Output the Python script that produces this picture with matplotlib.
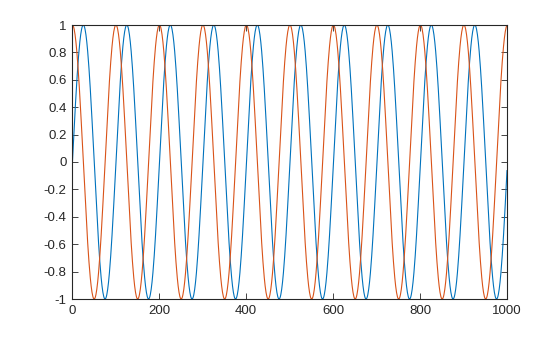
import numpy as np
import matplotlib
matplotlib.use("Agg")
import matplotlib.pyplot as plt

# Data: two unit sinusoids with period 100 samples,
# plotted against sample index 1..1000 (last blue value slightly below 0)
n_samples = 1000
period = 100.0
amplitude = 1.0
series_names = ["sin", "cos"]
series_phase = [0.0, np.pi / 2]          # blue = sin, orange = cos
series_colors = ["#0072BD", "#D95319"]

xticks = [0, 200, 400, 600, 800, 1000]
yticks = [-1, -0.8, -0.6, -0.4, -0.2, 0, 0.2, 0.4, 0.6, 0.8, 1]
ytick_labels = ["-1", "-0.8", "-0.6", "-0.4", "-0.2", "0", "0.2", "0.4", "0.6", "0.8", "1"]

plt.rcParams['font.family'] = ['Liberation Sans', 'DejaVu Sans']

fig = plt.figure(figsize=(5.6, 3.37), dpi=100)
ax = fig.add_axes([72 / 560, 1 - 299 / 337, (507 - 72) / 560, (299 - 25) / 337])

idx = np.arange(1, n_samples + 1)
t = idx - 1
for name, ph, c in zip(series_names, series_phase, series_colors):
    ax.plot(idx, amplitude * np.sin(2 * np.pi * t / period + ph), color=c, lw=0.8, label=name)

ax.set_xlim(0, 1000)
ax.set_ylim(-1, 1)
ax.set_xticks(xticks)
ax.set_xticklabels([str(v) for v in xticks])
ax.set_yticks(yticks)
ax.set_yticklabels(ytick_labels)
ax.tick_params(direction='in', top=True, right=True, length=4, width=0.6,
               labelsize=9.5, colors='#262626', pad=4)
for s in ax.spines.values():
    s.set_linewidth(0.8)
    s.set_color('#262626')

fig.savefig("out.png", dpi=100)
